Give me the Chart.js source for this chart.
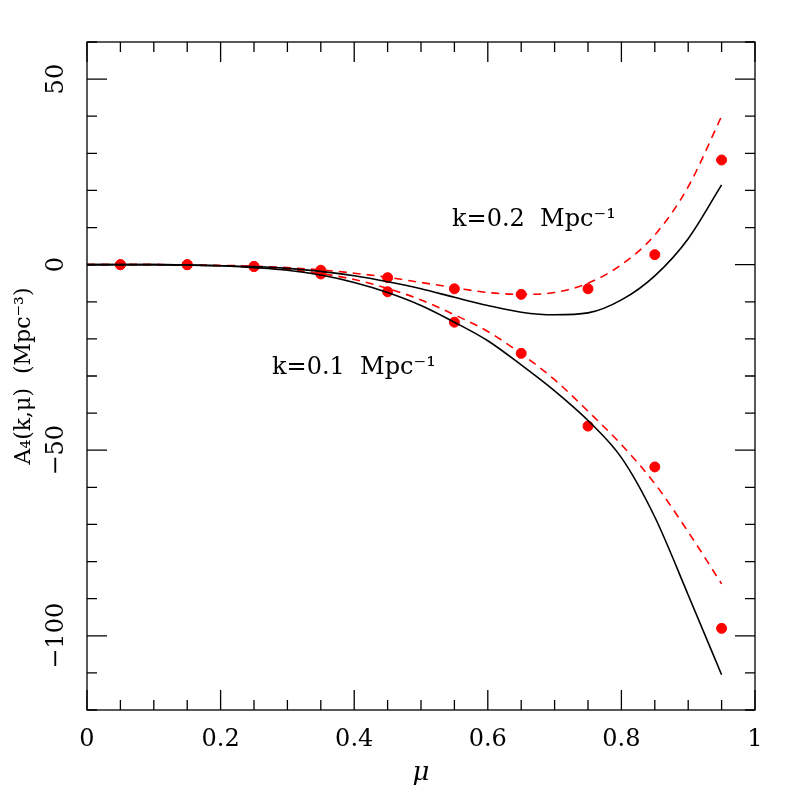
<!DOCTYPE html>
<html>
<head>
<meta charset="utf-8">
<script src="https://cdn.jsdelivr.net/npm/chart.js@4.4.0/dist/chart.umd.min.js"></script>
<style>body{margin:0;background:#fff}</style>
</head>
<body>
<canvas id="c" width="797" height="797"></canvas>
<script>
// data
const muCurve = [0, 0.05, 0.1, 0.15, 0.2, 0.25, 0.3, 0.35, 0.4, 0.45, 0.5, 0.55, 0.6, 0.65, 0.7, 0.75, 0.8, 0.85, 0.9, 0.95];
const k2Dashed = [0, 0, 0, -0.1, -0.2, -0.4, -0.8, -1.4, -2.3, -3.4, -4.8, -6.2, -7.5, -8, -7.5, -5, 0, 8, 21, 40];
const k2Solid = [0, 0, 0, -0.1, -0.3, -0.5, -1, -1.8, -3, -4.6, -6.5, -8.8, -11, -12.8, -13.5, -13, -9.5, -3, 7, 21.5];
const k1Dashed = [0, 0, 0, -0.1, -0.3, -0.7, -1.3, -2.4, -4, -6.4, -9.5, -13.5, -18, -24, -31, -39.5, -48.5, -59, -72, -86];
const k1Solid = [0, 0, 0, -0.1, -0.3, -0.8, -1.5, -2.8, -4.8, -7.5, -11, -15.5, -20.5, -27, -34, -42, -52, -68, -89, -110.5];
const muPts = [0.05, 0.15, 0.25, 0.35, 0.45, 0.55, 0.65, 0.75, 0.85, 0.95];
const k2Pts = [0, 0, -0.5, -1.5, -3.5, -6.5, -8, -6.5, 2.7, 28.2];
const k1Pts = [0, 0, -0.5, -2.5, -7.3, -15.5, -23.9, -43.5, -54.5, -98];
const xTicks = [0, 0.2, 0.4, 0.6, 0.8, 1];
const yTicks = [-100, -50, 0, 50];

const xy = (xs, ys) => xs.map((x, i) => ({ x, y: ys[i] }));
const line = (d, color, dash) => ({ data: xy(muCurve, d), borderColor: color, borderWidth: 1.6, borderDash: dash, pointRadius: 0, cubicInterpolationMode: 'monotone', fill: false });
const dots = d => ({ type: 'scatter', data: xy(muPts, d), pointRadius: 5, pointStyle: 'circle', backgroundColor: '#ff0000', borderColor: '#ff0000', showLine: false });

const font = '"DejaVu Serif", serif';

const frame = {
  id: 'frame',
  afterDraw(chart) {
    const c = chart.ctx, a = chart.chartArea, xs = chart.scales.x, ys = chart.scales.y;
    c.save();
    c.strokeStyle = '#000'; c.lineWidth = 1.3;
    c.strokeRect(a.left, a.top, a.right - a.left, a.bottom - a.top);
    for (let v = 0; v <= 1.0001; v += 0.05) {
      const p = xs.getPixelForValue(v), major = Math.abs(v / 0.2 - Math.round(v / 0.2)) < 1e-6;
      const L = major ? 20 : 10;
      c.beginPath(); c.moveTo(p, a.bottom); c.lineTo(p, a.bottom - L); c.moveTo(p, a.top); c.lineTo(p, a.top + L); c.stroke();
    }
    for (let v = -120; v <= 60; v += 10) {
      const p = ys.getPixelForValue(v), L = v % 50 === 0 ? 20 : 10;
      c.beginPath(); c.moveTo(a.left, p); c.lineTo(a.left + L, p); c.moveTo(a.right, p); c.lineTo(a.right - L, p); c.stroke();
    }
    c.fillStyle = '#000';
    c.font = '24px ' + font; c.textAlign = 'center'; c.textBaseline = 'top';
    xTicks.forEach(v => c.fillText(String(v), xs.getPixelForValue(v), a.bottom + 18));
    yTicks.forEach(v => {
      c.save(); c.translate(a.left - 18, ys.getPixelForValue(v)); c.rotate(-Math.PI / 2);
      c.textBaseline = 'bottom'; c.fillText(v < 0 ? '\u2212' + (-v) : String(v), 0, 0); c.restore();
    });
    c.font = 'italic 26px ' + font;
    c.fillText('\u03bc', (a.left + a.right) / 2, a.bottom + 50);
    c.save(); c.translate(24, (a.top + a.bottom) / 2); c.rotate(-Math.PI / 2);
    c.font = '22px ' + font; c.textBaseline = 'middle';
    c.fillText('A\u2084(k,\u03bc)  (Mpc\u207b\u00b3)', 0, 0); c.restore();
    c.font = '24px ' + font; c.textAlign = 'left'; c.textBaseline = 'middle';
    c.fillText('k=0.2  Mpc\u207b\u00b9', 452, 220);
    c.fillText('k=0.1  Mpc\u207b\u00b9', 272, 368);
    c.restore();
  }
};

new Chart(document.getElementById('c'), {
  type: 'line',
  data: {
    datasets: [
      line(k2Solid, '#000', []),
      line(k1Solid, '#000', []),
      line(k2Dashed, '#ff0000', [8, 6]),
      line(k1Dashed, '#ff0000', [8, 6]),
      dots(k2Pts),
      dots(k1Pts)
    ]
  },
  options: {
    responsive: false,
    animation: false,
    layout: { padding: { left: 87, right: 42, top: 42, bottom: 87 } },
    plugins: { legend: { display: false }, tooltip: { enabled: false } },
    scales: {
      x: { type: 'linear', min: 0, max: 1, display: false },
      y: { type: 'linear', min: -120, max: 60, display: false }
    }
  },
  plugins: [frame]
});
</script>
</body>
</html>
